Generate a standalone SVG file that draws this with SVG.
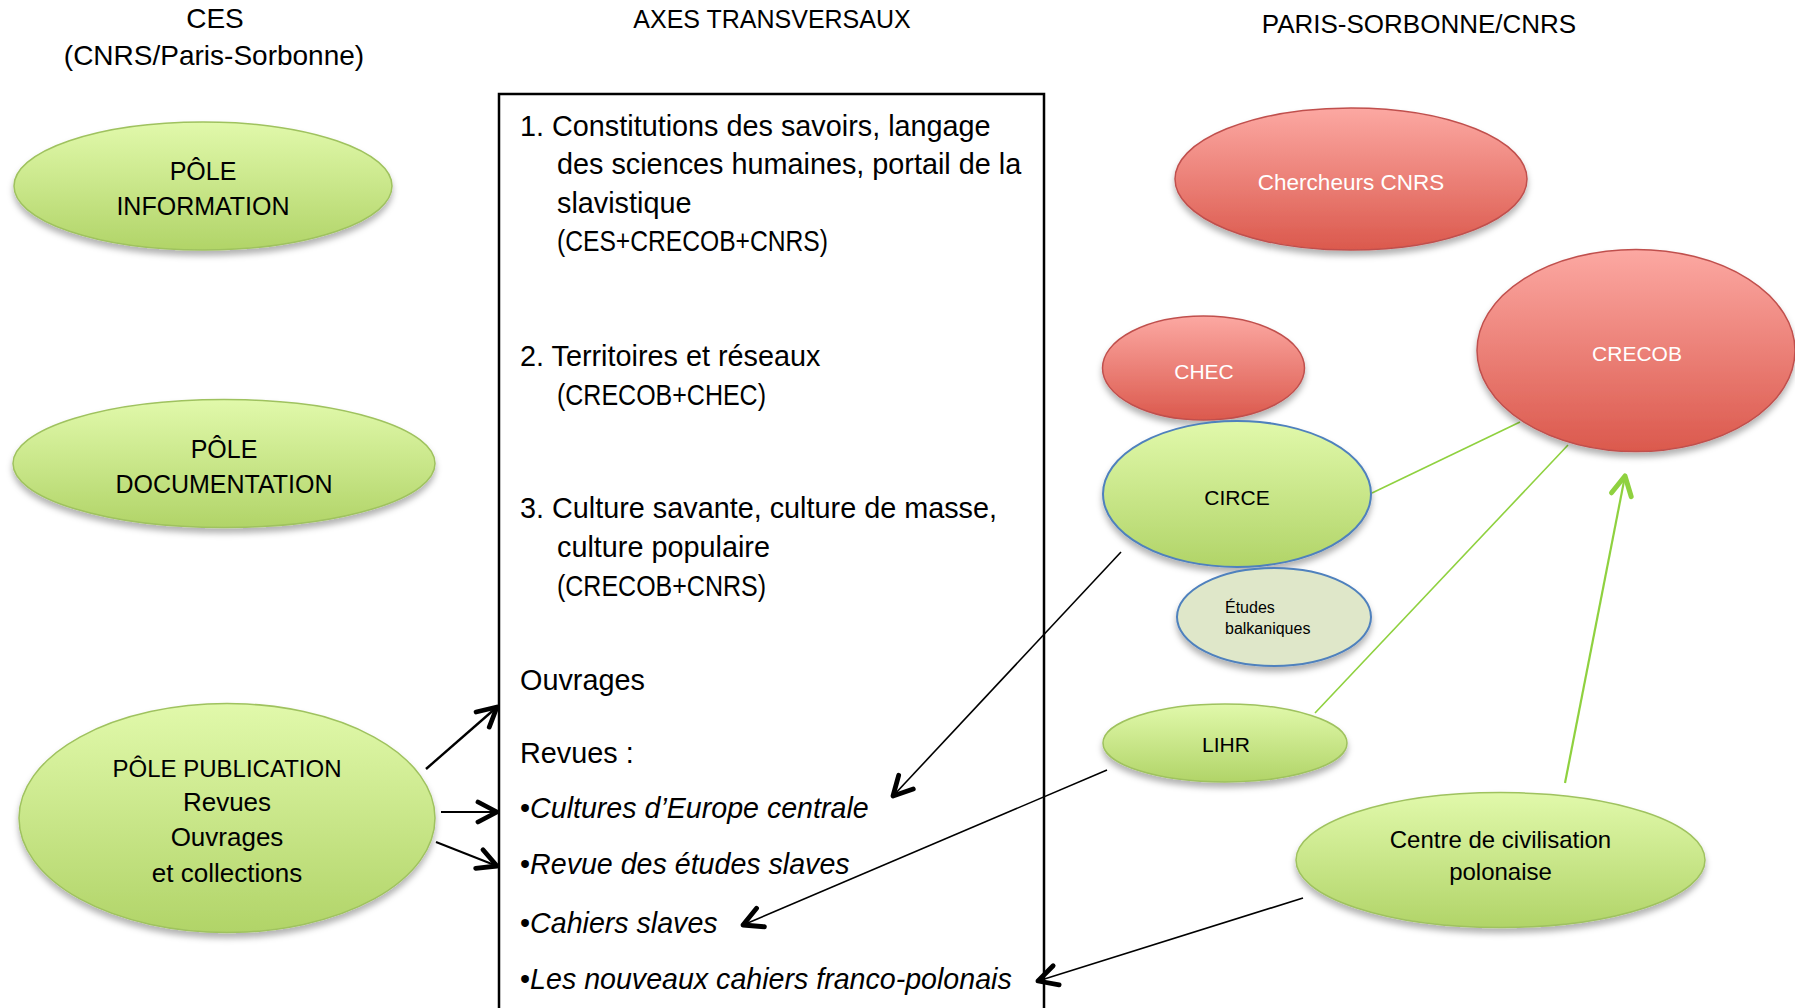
<svg xmlns="http://www.w3.org/2000/svg" width="1795" height="1008" viewBox="0 0 1795 1008">
<style>
  text { font-family: "Liberation Sans", Arial, sans-serif; fill: #000; }
  .hdr { font-size: 28px; text-anchor: middle; }
  .box { font-size: 28.8px; }
  .it { font-style: italic; font-size: 28.6px; }
  .pole { font-size: 25px; text-anchor: middle; }
  .polem { font-size: 26px; text-anchor: middle; }
  .wt { fill: #fff; font-size: 21px; text-anchor: middle; }
  .bk { font-size: 21px; text-anchor: middle; }
  .green { fill: url(#gGreen); stroke: #9fc25f; stroke-width: 1.5; filter: url(#sh); }
  .red { fill: url(#gRed); stroke: #c0504d; stroke-width: 1.5; filter: url(#sh); }
  .blueg { fill: url(#gGreen); stroke: #4f81bd; stroke-width: 2; filter: url(#sh); }
  .pale { fill: #dfe7c9; stroke: #4f81bd; stroke-width: 2; filter: url(#sh); }
  .blk { stroke: #000; fill: none; }
  .grn { stroke: #8fd13f; fill: none; }
</style>
<defs>
  <linearGradient id="gGreen" x1="0" y1="0" x2="0" y2="1">
    <stop offset="0" stop-color="#e1f9ab"/>
    <stop offset="1" stop-color="#b1d468"/>
  </linearGradient>
  <linearGradient id="gRed" x1="0" y1="0" x2="0" y2="1">
    <stop offset="0" stop-color="#fca8a2"/>
    <stop offset="1" stop-color="#db594d"/>
  </linearGradient>
  <filter id="sh" x="-10%" y="-10%" width="120%" height="130%">
    <feDropShadow dx="0" dy="5" stdDeviation="3" flood-color="#000" flood-opacity="0.3"/>
  </filter>
  <marker id="ah" markerUnits="userSpaceOnUse" viewBox="-26 -15 30 30" refX="0" refY="0" markerWidth="30" markerHeight="30" orient="auto">
    <path d="M-19,-10 L0,0 L-19,10" fill="none" stroke="#000" stroke-width="4.8" stroke-linecap="round" stroke-linejoin="round"/>
  </marker>
  <marker id="ahg" markerUnits="userSpaceOnUse" viewBox="-26 -15 30 30" refX="0" refY="0" markerWidth="30" markerHeight="30" orient="auto">
    <path d="M-19,-10 L0,0 L-19,10" fill="none" stroke="#8fd13f" stroke-width="5" stroke-linecap="round" stroke-linejoin="round"/>
  </marker>
</defs>

<rect width="1795" height="1008" fill="#fff"/>

<g id="headers">
  <text class="hdr" x="215" y="28">CES</text>
  <text class="hdr" x="214" y="65">(CNRS/Paris-Sorbonne)</text>
  <text class="hdr" x="772" y="28" style="font-size:25px">AXES TRANSVERSAUX</text>
  <text class="hdr" x="1419" y="33" style="font-size:26px">PARIS-SORBONNE/CNRS</text>
</g>

<g id="axes">
  <rect x="499" y="94" width="545" height="950" fill="none" stroke="#000" stroke-width="2.5"/>
  <text class="box" x="520" y="136">1. Constitutions des savoirs, langage</text>
  <text class="box" x="557" y="174">des sciences humaines, portail de la</text>
  <text class="box" x="557" y="213">slavistique</text>
  <text class="box" x="557" y="251" textLength="271" lengthAdjust="spacingAndGlyphs">(CES+CRECOB+CNRS)</text>
  <text class="box" x="520" y="366">2. Territoires et réseaux</text>
  <text class="box" x="557" y="405" textLength="209" lengthAdjust="spacingAndGlyphs">(CRECOB+CHEC)</text>
  <text class="box" x="520" y="518">3. Culture savante, culture de masse,</text>
  <text class="box" x="557" y="557">culture populaire</text>
  <text class="box" x="557" y="596" textLength="209" lengthAdjust="spacingAndGlyphs">(CRECOB+CNRS)</text>
  <text class="box" x="520" y="690">Ouvrages</text>
  <text class="box" x="520" y="763">Revues :</text>
  <text class="box" x="520" y="818">•<tspan class="it">Cultures d’Europe centrale</tspan></text>
  <text class="box" x="520" y="874">•<tspan class="it">Revue des études slaves</tspan></text>
  <text class="box" x="520" y="933">•<tspan class="it">Cahiers slaves</tspan></text>
  <text class="box" x="520" y="989">•<tspan class="it">Les nouveaux cahiers franco-polonais</tspan></text>
</g>

<g id="connectors">
  <line class="blk" x1="426" y1="769" x2="497" y2="707" stroke-width="2.4" marker-end="url(#ah)"/>
  <line class="blk" x1="441" y1="812" x2="497" y2="812" stroke-width="2" marker-end="url(#ah)"/>
  <line class="blk" x1="436" y1="842" x2="497" y2="866" stroke-width="2" marker-end="url(#ah)"/>
  <line class="blk" x1="1121" y1="552" x2="893" y2="796" stroke-width="1.6" marker-end="url(#ah)"/>
  <line class="blk" x1="1107" y1="770" x2="743" y2="925" stroke-width="1.6" marker-end="url(#ah)"/>
  <line class="blk" x1="1303" y1="898" x2="1038" y2="981" stroke-width="1.6" marker-end="url(#ah)"/>
  <line class="grn" x1="1372" y1="493" x2="1520" y2="422" stroke-width="1.6"/>
  <line class="grn" x1="1315" y1="713" x2="1568" y2="445" stroke-width="1.6"/>
  <line class="grn" x1="1565" y1="783" x2="1625" y2="476" stroke-width="2.2" marker-end="url(#ahg)"/>
</g>

<g id="pole-information">
  <ellipse class="green" cx="203" cy="186" rx="189" ry="64"/>
  <text class="pole" x="203" y="180">PÔLE</text>
  <text class="pole" x="203" y="215">INFORMATION</text>
</g>
<g id="pole-documentation">
  <ellipse class="green" cx="224" cy="463.5" rx="211" ry="64"/>
  <text class="pole" x="224" y="458">PÔLE</text>
  <text class="pole" x="224" y="493">DOCUMENTATION</text>
</g>
<g id="pole-publication">
  <ellipse class="green" cx="227" cy="818" rx="208" ry="114.5"/>
  <text class="pole" x="227" y="777" style="font-size:24px">PÔLE PUBLICATION</text>
  <text class="polem" x="227" y="811">Revues</text>
  <text class="polem" x="227" y="846">Ouvrages</text>
  <text class="polem" x="227" y="882">et collections</text>
</g>

<g id="chercheurs-cnrs">
  <ellipse class="red" cx="1351" cy="179" rx="176" ry="71"/>
  <text class="wt" x="1351" y="190" style="font-size:22.5px">Chercheurs CNRS</text>
</g>
<g id="crecob">
  <ellipse class="red" cx="1636" cy="350.5" rx="159" ry="101"/>
  <text class="wt" x="1637" y="361">CRECOB</text>
</g>
<g id="chec">
  <ellipse class="red" cx="1203.5" cy="368" rx="101" ry="52"/>
  <text class="wt" x="1204" y="379">CHEC</text>
</g>
<g id="circe">
  <ellipse class="blueg" cx="1237" cy="494" rx="134" ry="73"/>
  <text class="bk" x="1237" y="505">CIRCE</text>
</g>
<g id="etudes-balkaniques">
  <ellipse class="pale" cx="1274" cy="617" rx="97" ry="49"/>
  <text x="1225" y="613" style="font-size:16px">Études</text>
  <text x="1225" y="634" style="font-size:16px">balkaniques</text>
</g>
<g id="lihr">
  <ellipse class="green" cx="1225" cy="743" rx="122" ry="39"/>
  <text class="bk" x="1226" y="752">LIHR</text>
</g>
<g id="centre-civilisation-polonaise">
  <ellipse class="green" cx="1500.5" cy="860" rx="204.5" ry="67.5"/>
  <text class="pole" x="1500.5" y="848" style="font-size:24px">Centre de civilisation</text>
  <text class="pole" x="1500.5" y="880" style="font-size:24px">polonaise</text>
</g>
</svg>
